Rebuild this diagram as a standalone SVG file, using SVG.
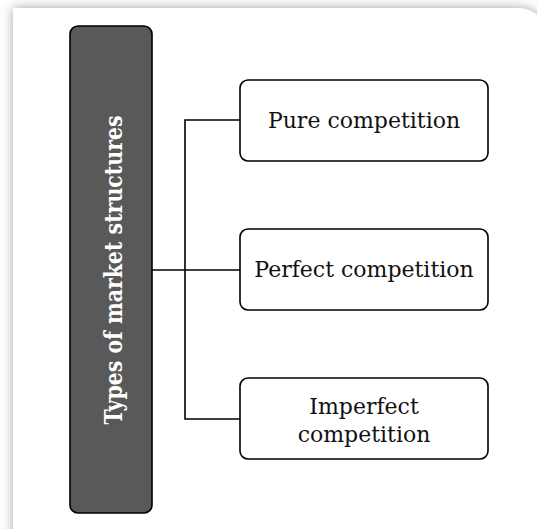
<svg xmlns="http://www.w3.org/2000/svg" width="537" height="529" viewBox="0 0 537 529">
<style>
.leaf rect{fill:#ffffff;stroke:#000000;stroke-width:1.6}
.leaf text{font-family:"DejaVu Serif","Liberation Serif",serif;font-size:22px;fill:#111111;text-anchor:middle}
.conn{fill:none;stroke:#000000;stroke-width:1.6}
</style>
<defs>
<filter id="shadow" x="-10%" y="-10%" width="120%" height="120%">
<feDropShadow dx="0" dy="0" stdDeviation="6" flood-color="#8a8a8a" flood-opacity="0.8"/>
</filter>
</defs>
<rect x="0" y="0" width="537" height="529" fill="#ffffff"/>
<path id="panel" d="M13,8 H518 A30,30 0 0 1 548,38 V560 H13 Z" fill="#ffffff" filter="url(#shadow)"/>
<g id="connectors" class="conn">
<line x1="152" y1="270" x2="240" y2="270"/>
<polyline points="240,120 185,120 185,419 240,419"/>
</g>
<g id="root">
<rect x="70" y="26" width="82" height="487" rx="8" ry="8" fill="#595959" stroke="#000000" stroke-width="1.6"/>
<text x="0" y="0" transform="translate(122,270) rotate(-90)" font-family="DejaVu Serif, Liberation Serif, serif" font-weight="bold" font-size="24" fill="#ffffff" text-anchor="middle" textLength="309" lengthAdjust="spacingAndGlyphs">Types of market structures</text>
</g>
<g id="pure" class="leaf">
<rect x="240" y="80" width="248" height="81" rx="8" ry="8"/>
<text x="364" y="128">Pure competition</text>
</g>
<g id="perfect" class="leaf">
<rect x="240" y="229" width="248" height="81" rx="8" ry="8"/>
<text x="364" y="277">Perfect competition</text>
</g>
<g id="imperfect" class="leaf">
<rect x="240" y="378" width="248" height="81" rx="8" ry="8"/>
<text x="364" y="414">Imperfect</text>
<text x="364" y="442">competition</text>
</g>
</svg>
